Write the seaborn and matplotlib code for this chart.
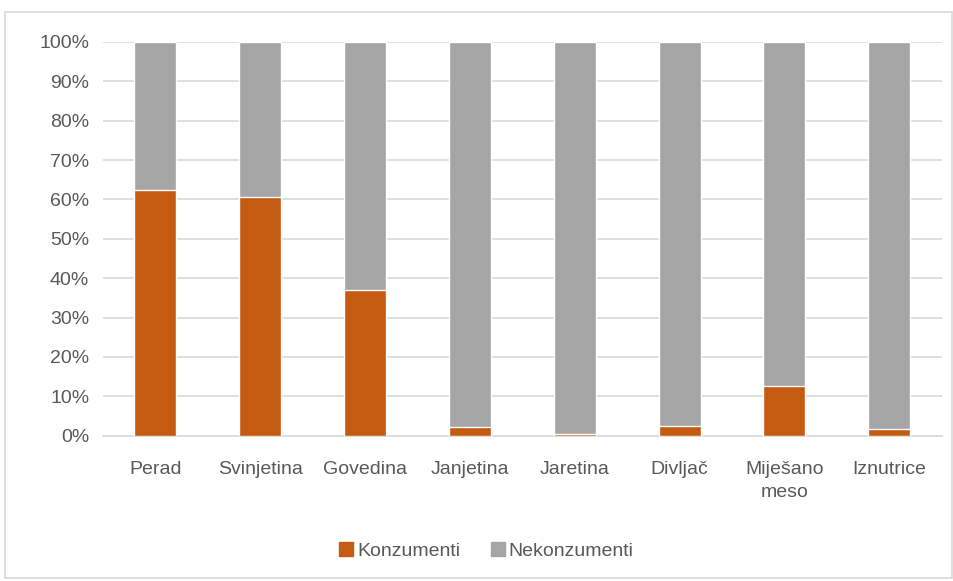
import pandas as pd
import matplotlib.pyplot as plt
import matplotlib.patches as mpatches
from matplotlib.ticker import PercentFormatter
import seaborn as sns

categories = ["Perad", "Svinjetina", "Govedina", "Janjetina", "Jaretina",
              "Divljač", "Miješano\nmeso", "Iznutrice"]
konzumenti = [62.3, 60.6, 37.0, 2.3, 0.5, 2.6, 12.7, 1.8]
nekonzumenti = [100 - v for v in konzumenti]

orange = "#C55A11"
grey = "#A5A5A5"
text_col = "#595959"

sns.set_theme(style="white")
plt.rcParams["font.family"] = ["Liberation Sans", "DejaVu Sans"]

df = pd.DataFrame({"kategorija": categories, "Konzumenti": konzumenti,
                   "ukupno": [k + n for k, n in zip(konzumenti, nekonzumenti)]})

fig = plt.figure(figsize=(9.54, 5.81), dpi=100)
ax = fig.add_axes([0.108, 0.25, 0.879, 0.678])

# total bar (grey) drawn first, orange on top -> stacked look
sns.barplot(data=df, x="kategorija", y="ukupno", color=grey, width=0.4,
            saturation=1, ax=ax, zorder=2)
sns.barplot(data=df, x="kategorija", y="Konzumenti", color=orange, width=0.4,
            saturation=1, ax=ax, zorder=3)

ax.set_ylim(0, 100)
ax.set_yticks(range(0, 101, 10))
ax.yaxis.set_major_formatter(PercentFormatter(decimals=0))
ax.grid(axis="y", color="#D9D9D9", linewidth=1.2, zorder=0)
ax.set_axisbelow(True)
for s in ["top", "right", "left"]:
    ax.spines[s].set_visible(False)
ax.spines["bottom"].set_color("#D9D9D9")
ax.spines["bottom"].set_linewidth(1.2)
ax.set_xlabel("")
ax.set_ylabel("")
ax.tick_params(axis="both", colors=text_col, labelsize=14, length=0)
ax.tick_params(axis="y", pad=10)
ax.tick_params(axis="x", pad=18)
for lbl in ax.get_xticklabels():
    lbl.set_color(text_col)
    lbl.set_linespacing(1.45)
for lbl in ax.get_yticklabels():
    lbl.set_color(text_col)

handles = [mpatches.Patch(color=orange, label="Konzumenti"),
           mpatches.Patch(color=grey, label="Nekonzumenti")]
fig.legend(handles=handles, loc="center", bbox_to_anchor=(0.51, 0.052), ncol=2,
           frameon=False, fontsize=14, handlelength=0.7, handleheight=0.7,
           handletextpad=0.2, columnspacing=1.6, labelcolor=text_col)

# light frame around the chart area, as in the source
fig.patches.append(mpatches.Rectangle((0.005, 0.005), 0.993, 0.975,
                                      transform=fig.transFigure, fill=False,
                                      edgecolor="#D9D9D9", linewidth=1.2))

fig.savefig("out.png", dpi=100)
